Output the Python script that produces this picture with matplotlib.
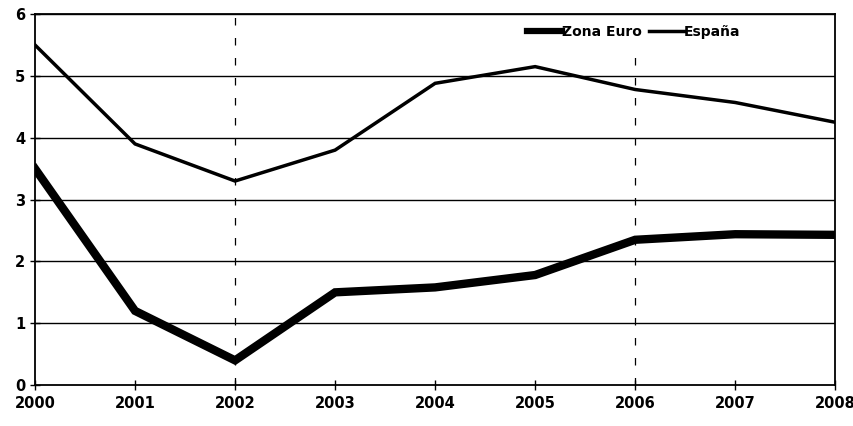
import matplotlib.pyplot as plt

years = [2000, 2001, 2002, 2003, 2004, 2005, 2006, 2007, 2008]
zona_euro = [3.5, 1.2, 0.4, 1.5, 1.58, 1.78, 2.35, 2.44, 2.43]
espana = [5.5, 3.9, 3.3, 3.8, 4.88, 5.15, 4.78, 4.57, 4.25]
marks = [2002, 2006]

fig = plt.figure(figsize=(8.54, 4.26), dpi=100)
ax = fig.add_axes([0.041, 0.096, 0.937, 0.871])

for y in range(1, 7):
	ax.axhline(y, color='black', lw=1.0, zorder=1)

ax.plot([marks[0], marks[0]], [0, 6], color='black', lw=0.9, ls=(0, (6, 10)), zorder=1)
ax.plot([marks[1], marks[1]], [0, 5.5], color='black', lw=0.9, ls=(0, (6, 10)), zorder=1)

ax.plot(years, zona_euro, color='black', lw=6, solid_joinstyle='miter', label='Zona Euro', zorder=3)
ax.plot(years, espana, color='black', lw=2.5, solid_joinstyle='miter', label='España', zorder=3)

ax.set_xlim(2000, 2008)
ax.set_ylim(0, 6)
ax.set_xticks(years)
ax.set_yticks(range(0, 7))
ax.tick_params(axis='both', direction='inout', length=7, width=1, labelsize=10.5, colors='black')
ax.tick_params(axis='x', pad=4)
for lab in ax.get_xticklabels() + ax.get_yticklabels():
	lab.set_fontweight('bold')
for s in ax.spines.values():
	s.set_linewidth(1.3)

leg = ax.legend(loc='upper right', bbox_to_anchor=(0.888, 0.985), ncol=2, frameon=False,
	handlelength=2.5, handletextpad=0.0, columnspacing=0.5, fontsize=10, borderaxespad=0)
leg.get_lines()[0].set_linewidth(4.5)
for t in leg.get_texts():
	t.set_fontweight('semibold')

fig.savefig('out.png', dpi=100)
